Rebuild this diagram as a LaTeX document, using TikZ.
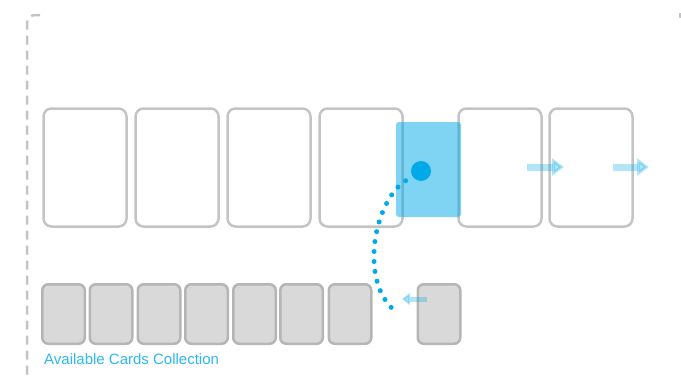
\documentclass[tikz,border=0pt]{standalone}
\usepackage{fontspec}
\setmainfont{Liberation Sans}
\usepackage{xcolor}
\usepackage{tikz}
\usetikzlibrary{arrows.meta}
\definecolor{cardline}{RGB}{196,196,196}
\definecolor{stackfill}{RGB}{217,217,217}
\definecolor{stackline}{RGB}{181,181,181}
\definecolor{pickblue}{RGB}{0,169,232}
\definecolor{labelblue}{RGB}{45,184,240}
\tikzset{
  slot/.style={draw=cardline, line width=2.5pt, rounded corners=8pt, minimum width=83pt, minimum height=118pt, inner sep=0pt},
  stackcard/.style={draw=stackline, fill=stackfill, line width=2.5pt, rounded corners=6pt, minimum width=42.5pt, minimum height=59.5pt, inner sep=0pt},
  dragcard/.style={fill=pickblue, fill opacity=0.5, rounded corners=3pt, minimum width=65pt, minimum height=95pt, inner sep=0pt},
  grab/.style={circle, fill=pickblue, minimum size=20pt, inner sep=0pt},
  droppath/.style={pickblue, line width=5pt, line cap=round, dash pattern=on 0pt off 10pt},
  shiftarrow/.style={pickblue, opacity=0.3, line width=7pt, -{Triangle[length=12pt,width=17pt]}},
  backarrow/.style={pickblue, opacity=0.3, line width=5pt, -{Triangle[length=8pt,width=12pt]}},
  dashframe/.style={cardline, line width=2.5pt, dash pattern=on 9pt off 6pt},
}

\begin{document}
\begin{tikzpicture}[x=1pt,y=-1pt]
\useasboundingbox (0,0) rectangle (681,380);
% dashed frame
\draw[dashframe, rounded corners=8pt] (40,15) -| (27,380);
\draw[cardline, line width=2pt] (680,13) -- (680,18);
% slots of the row
\node[slot] (slot1) at (85,167.5) {};
\node[slot] (slot2) at (177,167.5) {};
\node[slot] (slot3) at (269,167.5) {};
\node[slot] (slot4) at (361,167.5) {};
\node[slot] (slot5) at (500,167.5) {};
\node[slot] (slot6) at (591,167.5) {};
% card being dropped
\node[dragcard] (drag) at (428.5,169.5) {};
\node[grab] (grab) at (421,171) {};
\coordinate (drop) at (395,311);
\draw[droppath, shorten <=8pt] (grab) .. controls (375,200) and (358,280) .. (drop);
% shifting
\coordinate (shiftA) at (527,167);
\coordinate (shiftB) at (564,167);
\coordinate (shiftC) at (613,167);
\coordinate (shiftD) at (649,167);
\draw[shiftarrow] (shiftA) -- (shiftB);
\draw[shiftarrow] (shiftC) -- (shiftD);
% collection
\node[stackcard] (stack1) at (63.5,314) {};
\node[stackcard] (stack2) at (111,314) {};
\node[stackcard] (stack3) at (159,314) {};
\node[stackcard] (stack4) at (206.5,314) {};
\node[stackcard] (stack5) at (254.5,314) {};
\node[stackcard] (stack6) at (301.5,314) {};
\node[stackcard] (stack7) at (350,314) {};
\node[stackcard] (stack8) at (439,314) {};
\coordinate (backA) at (427,299);
\coordinate (backB) at (402,299);
\draw[backarrow] (backA) -- (backB);
\node[anchor=base west, inner sep=0pt, text=labelblue, font=\fontsize{15}{18}\selectfont] (caption) at (44,364) {Available Cards Collection};
\end{tikzpicture}
\end{document}
